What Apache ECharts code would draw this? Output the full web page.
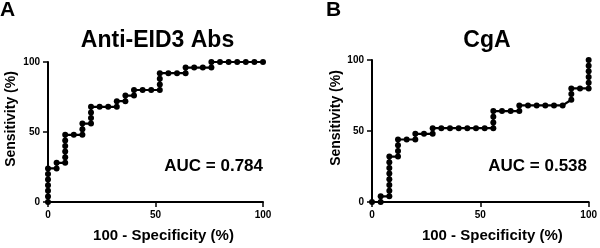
<!DOCTYPE html>
<html>
<head>
<meta charset="utf-8">
<script src="https://cdn.jsdelivr.net/npm/echarts@6/dist/echarts.min.js"></script>
<style>
  html, body {margin: 0; padding: 0; background: #fff;}
  #chart {width: 600px; height: 248px;}
</style>
</head>
<body>
<div id="chart"></div>
<script>
// panel A: Anti-EID3 Abs ROC
const specA = [0, 0, 0, 0, 0, 0, 0, 4, 4, 8, 8, 8, 8, 8, 8, 12, 16, 16, 16, 20, 20, 20, 20, 24, 28, 32, 32, 36, 36, 40, 40, 44, 48, 52, 52, 52, 52, 56, 60, 64, 64, 68, 72, 76, 76, 80, 84, 88, 92, 96, 100];
const sensA = [0, 4, 8, 12, 16, 20, 24, 24, 28, 28, 32, 36, 40, 44, 48, 48, 48, 52, 56, 56, 60, 64, 68, 68, 68, 68, 72, 72, 76, 76, 80, 80, 80, 80, 84, 88, 92, 92, 92, 92, 96, 96, 96, 96, 100, 100, 100, 100, 100, 100, 100];
// panel B: CgA ROC
const specB = [0, 4, 4, 8, 8, 8, 8, 8, 8, 8, 8, 12, 12, 12, 12, 16, 20, 20, 24, 28, 28, 32, 36, 40, 44, 48, 52, 56, 56, 56, 56, 60, 64, 68, 68, 72, 76, 80, 84, 88, 92, 92, 92, 96, 100, 100, 100, 100, 100, 100];
const sensB = [0, 0, 4, 4, 8, 12, 16, 20, 24, 28, 32, 32, 36, 40, 44, 44, 44, 48, 48, 48, 52, 52, 52, 52, 52, 52, 52, 52, 56, 60, 64, 64, 64, 64, 68, 68, 68, 68, 68, 68, 72, 76, 80, 80, 80, 84, 88, 92, 96, 100];

const panelLabels = ['A', 'B'];
const titles = ['Anti-EID3 Abs', 'CgA'];
const aucs = ['0.784', '0.538'];
const xName = '100 - Specificity (%)';
const yName = 'Sensitivity (%)';

const font = 'Arial, "Liberation Sans", sans-serif';
const grids = [
  {left: 48, top: 62, width: 215, height: 143},
  {left: 372, top: 60, width: 220, height: 145},
];

const chart = echarts.init(document.getElementById('chart'), null, {renderer: 'canvas'});

function axisBase() {
  return {
    type: 'value',
    min: 0,
    max: 100,
    interval: 50,
    axisLine: {show: true, lineStyle: {color: '#000', width: 2}},
    axisTick: {show: true, length: 5, lineStyle: {color: '#000', width: 1.5}},
    splitLine: {show: false},
    axisLabel: {color: '#000', fontSize: 10, fontWeight: 'bold', fontFamily: font, margin: 8},
    nameTextStyle: {color: '#000', fontSize: 15, fontWeight: 'bold', fontFamily: font},
  };
}

const xAxes = grids.map((g, i) => ({
  ...axisBase(),
  gridIndex: i,
  name: xName,
  nameLocation: 'middle',
  nameGap: 26,
  nameTextStyle: {...axisBase().nameTextStyle, padding: [0, 0, 0, i === 0 ? 16 : 24]},
}));

const yAxes = grids.map((g, i) => ({
  ...axisBase(),
  gridIndex: i,
  name: yName,
  nameLocation: 'middle',
  nameGap: i === 0 ? 30 : 27,
  nameTextStyle: {...axisBase().nameTextStyle, fontSize: 14, padding: [0, 0, 0, 26]},
}));

const series = [[specA, sensA], [specB, sensB]].map(([xs, ys], i) => ({
  type: 'line',
  xAxisIndex: i,
  yAxisIndex: i,
  data: xs.map((x, k) => [x, ys[k]]),
  symbol: 'circle',
  symbolSize: 6,
  clip: false,
  itemStyle: {color: '#000'},
  lineStyle: {color: '#000', width: 2.2},
  animation: false,
}));

const title = [];
grids.forEach((g, i) => {
  title.push({
    text: panelLabels[i],
    left: i === 0 ? 0 : 326,
    top: 0,
    padding: 0,
    textStyle: {fontSize: 21, fontWeight: 'bold', fontFamily: font, color: '#000'},
  });
  title.push({
    text: titles[i],
    left: g.left + g.width / 2 + (i === 0 ? 2 : 5),
    textAlign: 'center',
    top: 29,
    padding: 0,
    textStyle: {fontSize: 23, fontWeight: 'bold', fontFamily: font, color: '#000'},
  });
});

const graphic = grids.map((g, i) => ({
  type: 'text',
  right: 600 - (g.left + g.width) - (i === 0 ? 0 : -5),
  top: 158,
  style: {
    text: 'AUC = ' + aucs[i],
    font: 'bold 17px ' + font,
    fill: '#000',
  },
}));

chart.setOption({
  animation: false,
  grid: grids,
  title,
  xAxis: xAxes,
  yAxis: yAxes,
  series,
  graphic,
});
</script>
</body>
</html>
